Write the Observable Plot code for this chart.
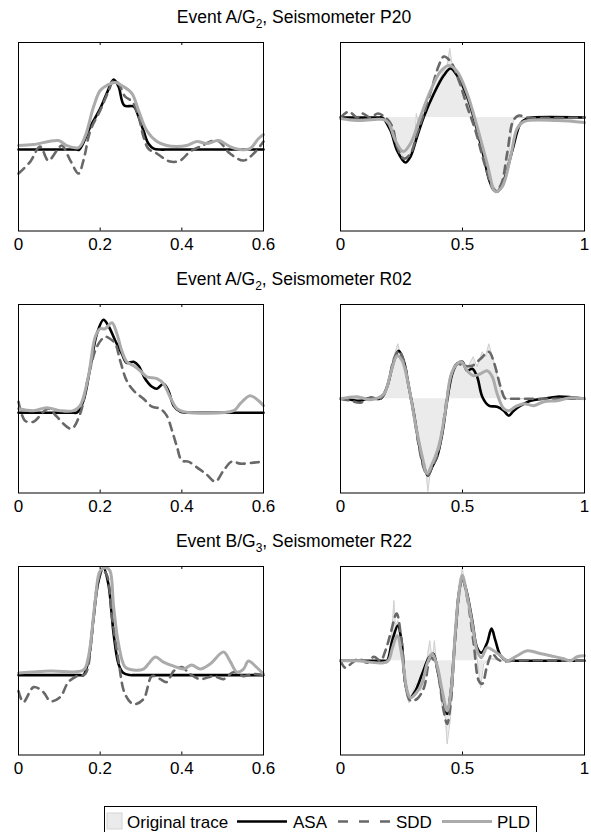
<!DOCTYPE html>
<html>
<head>
<meta charset="utf-8">
<script src="https://cdn.jsdelivr.net/npm/d3@7"></script>
<script src="https://cdn.jsdelivr.net/npm/@observablehq/plot@0.6"></script>
<style>
  body { margin: 0; background: #fff; }
  #fig { position: relative; width: 591px; height: 832px; overflow: hidden;
         font-family: "Liberation Sans", Arial, Helvetica, sans-serif; color: #000; }
  .title { position: absolute; left: 0; width: 588px; text-align: center;
           font-size: 17.5px; line-height: 17px; white-space: nowrap; }
  .title sub { font-size: 12px; line-height: 0; vertical-align: -5px; }
</style>
</head>
<body>
<div id="fig"></div>
<script>
// ---- Event A/G2, seismometer P20 ----
// envelope, 0–0.6 s
const p20EnvASA = [[0,0],[0.14,0],[0.149,0],[0.176,0.23],[0.2,0.41],[0.216,0.56],[0.233,0.70],[0.245,0.63],[0.259,0.44],[0.282,0.43],[0.294,0.33],[0.306,0.19],[0.318,0.06],[0.331,0.01],[0.347,0],[0.36,0],[0.6,0]];
const p20EnvSDD = [[0,-0.24],[0.029,-0.12],[0.053,0.03],[0.073,-0.11],[0.094,-0.01],[0.106,0.04],[0.127,-0.11],[0.147,-0.24],[0.159,-0.11],[0.176,0.19],[0.2,0.39],[0.22,0.58],[0.233,0.69],[0.245,0.66],[0.261,0.53],[0.278,0.48],[0.294,0.33],[0.306,0.13],[0.318,0.01],[0.339,-0.04],[0.371,-0.12],[0.396,-0.11],[0.42,-0.02],[0.445,0.03],[0.486,0.09],[0.518,-0.04],[0.551,-0.11],[0.576,-0.04],[0.6,0.08]];
const p20EnvPLD = [[0,0.04],[0.037,0.05],[0.098,0.09],[0.118,0.04],[0.147,0.02],[0.163,0.13],[0.184,0.43],[0.2,0.59],[0.216,0.64],[0.237,0.67],[0.257,0.63],[0.278,0.56],[0.294,0.39],[0.314,0.19],[0.339,0.08],[0.363,0.04],[0.388,0.03],[0.412,0.04],[0.437,0.08],[0.461,0.06],[0.49,0.09],[0.518,0.03],[0.543,0],[0.567,0.01],[0.588,0.11],[0.6,0.15]];
// waveform, 0–1 s
const p20Trace = [[0,0],[0.184,0],[0.205,-0.03],[0.232,-0.26],[0.26,-0.41],[0.284,-0.36],[0.303,-0.23],[0.311,0.04],[0.321,-0.09],[0.342,0.02],[0.383,0.27],[0.417,0.44],[0.437,0.52],[0.448,0.69],[0.458,0.51],[0.478,0.44],[0.512,0.22],[0.54,0],[0.574,-0.29],[0.608,-0.59],[0.635,-0.74],[0.656,-0.70],[0.674,-0.58],[0.69,-0.36],[0.703,-0.1],[0.712,0],[1,0]];
const p20WaveASA = [[0,0],[0.16,0],[0.171,0],[0.205,-0.13],[0.232,-0.33],[0.266,-0.45],[0.287,-0.39],[0.314,-0.19],[0.342,0.01],[0.383,0.24],[0.423,0.42],[0.451,0.49],[0.478,0.42],[0.519,0.21],[0.553,-0.06],[0.587,-0.39],[0.615,-0.66],[0.642,-0.74],[0.669,-0.63],[0.704,-0.33],[0.738,-0.06],[0.765,-0.01],[0.785,0],[1,0]];
const p20WaveSDD = [[0,0],[0.034,0.06],[0.068,0],[0.089,0.04],[0.123,0],[0.153,0.04],[0.184,0],[0.212,-0.09],[0.232,-0.29],[0.26,-0.41],[0.287,-0.36],[0.314,-0.16],[0.342,0.04],[0.376,0.31],[0.403,0.52],[0.423,0.61],[0.451,0.56],[0.485,0.37],[0.519,0.11],[0.553,-0.13],[0.594,-0.49],[0.631,-0.73],[0.656,-0.68],[0.683,-0.36],[0.708,-0.03],[0.731,0.02],[0.765,0],[1,0]];
const p20WavePLD = [[0,-0.01],[0.068,-0.03],[0.137,-0.02],[0.178,-0.02],[0.198,-0.06],[0.225,-0.23],[0.257,-0.34],[0.287,-0.26],[0.328,0.01],[0.369,0.27],[0.41,0.46],[0.444,0.52],[0.478,0.46],[0.519,0.24],[0.56,-0.09],[0.601,-0.46],[0.635,-0.74],[0.663,-0.69],[0.697,-0.39],[0.724,-0.11],[0.751,-0.04],[0.888,-0.03],[1,-0.05]];

// ---- Event A/G2, seismometer R02 ----
const r02EnvASA = [[0,0],[0.135,0],[0.143,0],[0.159,0.12],[0.176,0.46],[0.192,0.79],[0.208,0.93],[0.22,0.87],[0.237,0.72],[0.253,0.59],[0.265,0.50],[0.282,0.51],[0.294,0.47],[0.31,0.34],[0.327,0.26],[0.339,0.24],[0.355,0.29],[0.367,0.22],[0.38,0.07],[0.396,0.01],[0.412,0],[0.425,0],[0.6,0]];
const r02EnvSDD = [[0,0.11],[0.016,-0.08],[0.037,-0.09],[0.061,0.01],[0.073,0.04],[0.094,-0.04],[0.118,-0.14],[0.131,-0.16],[0.151,-0.01],[0.171,0.36],[0.192,0.66],[0.212,0.76],[0.224,0.74],[0.237,0.69],[0.249,0.52],[0.265,0.32],[0.282,0.22],[0.306,0.14],[0.327,0.06],[0.347,0.04],[0.363,-0.03],[0.376,-0.18],[0.388,-0.34],[0.4,-0.48],[0.416,-0.49],[0.441,-0.56],[0.461,-0.62],[0.482,-0.69],[0.502,-0.58],[0.522,-0.49],[0.543,-0.51],[0.576,-0.50],[0.6,-0.49]];
const r02EnvPLD = [[0,0.04],[0.037,0.02],[0.069,0.05],[0.102,0.02],[0.135,0.02],[0.151,0.07],[0.171,0.36],[0.188,0.76],[0.2,0.84],[0.212,0.84],[0.229,0.90],[0.241,0.79],[0.253,0.62],[0.265,0.51],[0.282,0.47],[0.298,0.42],[0.314,0.36],[0.339,0.34],[0.355,0.29],[0.371,0.16],[0.388,0.04],[0.404,0.01],[0.527,0.02],[0.543,0.09],[0.567,0.17],[0.588,0.12],[0.6,0.07]];
const r02Trace = [[0,0],[0.164,0],[0.191,0.12],[0.219,0.42],[0.235,0.55],[0.253,0.38],[0.273,0.15],[0.29,0],[0.314,-0.38],[0.339,-0.68],[0.348,-0.65],[0.358,-0.93],[0.369,-0.72],[0.385,-0.58],[0.41,-0.35],[0.437,-0.02],[0.458,0.25],[0.485,0.37],[0.519,0.30],[0.544,0.42],[0.56,0.32],[0.581,0.47],[0.594,0.42],[0.608,0.55],[0.628,0.37],[0.649,0.15],[0.669,0],[1,0]];
const r02WaveASA = [[0,0],[0.041,-0.01],[0.082,-0.02],[0.123,0.01],[0.164,0],[0.191,0.12],[0.219,0.38],[0.239,0.48],[0.26,0.37],[0.28,0.12],[0.301,-0.15],[0.321,-0.45],[0.342,-0.68],[0.358,-0.77],[0.376,-0.68],[0.396,-0.58],[0.417,-0.35],[0.437,-0.02],[0.458,0.25],[0.478,0.35],[0.499,0.37],[0.519,0.28],[0.54,0.30],[0.56,0.22],[0.581,0.02],[0.608,-0.07],[0.642,-0.08],[0.669,-0.12],[0.69,-0.17],[0.71,-0.12],[0.738,-0.07],[0.779,-0.02],[0.833,0],[0.888,0.02],[1,0]];
const r02WaveSDD = [[0,0],[0.041,-0.02],[0.082,-0.04],[0.123,0.01],[0.164,0],[0.191,0.12],[0.219,0.40],[0.239,0.48],[0.26,0.37],[0.28,0.12],[0.301,-0.17],[0.321,-0.47],[0.342,-0.70],[0.358,-0.77],[0.376,-0.68],[0.396,-0.57],[0.417,-0.32],[0.437,0.02],[0.458,0.27],[0.478,0.35],[0.505,0.33],[0.54,0.33],[0.574,0.40],[0.608,0.47],[0.628,0.37],[0.656,0.12],[0.676,0],[0.69,0],[1,0]];
const r02WavePLD = [[0,0],[0.068,0.02],[0.123,-0.01],[0.178,0.05],[0.205,0.25],[0.232,0.43],[0.253,0.38],[0.28,0.12],[0.307,-0.25],[0.335,-0.58],[0.355,-0.75],[0.376,-0.65],[0.403,-0.48],[0.43,-0.12],[0.451,0.22],[0.471,0.33],[0.495,0.37],[0.519,0.28],[0.546,0.23],[0.574,0.25],[0.601,0.28],[0.622,0.22],[0.642,0.05],[0.669,-0.10],[0.69,-0.12],[0.717,-0.08],[0.751,-0.05],[0.792,-0.07],[0.833,-0.03],[0.888,-0.02],[0.943,0.01],[1,0]];

// ---- Event B/G3, seismometer R22 ----
const r22EnvASA = [[0,0],[0.15,0],[0.159,0],[0.171,0.14],[0.184,0.58],[0.196,0.94],[0.208,1.07],[0.22,0.91],[0.233,0.41],[0.245,0.11],[0.257,0.02],[0.273,0],[0.285,0],[0.6,0]];
const r22EnvSDD = [[0,-0.16],[0.012,-0.27],[0.037,-0.12],[0.061,-0.17],[0.078,-0.26],[0.102,-0.22],[0.122,-0.07],[0.143,-0.01],[0.163,0.01],[0.18,0.41],[0.192,0.88],[0.204,1.04],[0.215,1.01],[0.229,0.58],[0.245,0.14],[0.261,-0.19],[0.282,-0.29],[0.306,-0.24],[0.327,-0.01],[0.347,-0.04],[0.363,-0.07],[0.38,0.04],[0.4,0.08],[0.42,0.01],[0.445,-0.04],[0.478,-0.01],[0.502,-0.04],[0.527,0.03],[0.551,-0.01],[0.576,0.01],[0.6,0]];
const r22EnvPLD = [[0,0.02],[0.078,0.04],[0.159,0.05],[0.171,0.18],[0.188,0.74],[0.2,1.04],[0.215,1.07],[0.224,1.04],[0.233,0.68],[0.245,0.31],[0.261,0.08],[0.282,0.05],[0.306,0.06],[0.318,0.11],[0.335,0.18],[0.355,0.13],[0.38,0.09],[0.404,0.06],[0.424,0.10],[0.445,0.06],[0.469,0.11],[0.502,0.23],[0.518,0.14],[0.535,0.03],[0.551,0.06],[0.563,0.14],[0.58,0.09],[0.6,0.01]];
const r22Trace = [[0,0],[0.191,0],[0.205,0.10],[0.219,0.60],[0.225,0.33],[0.235,0.40],[0.253,0],[0.266,-0.30],[0.28,-0.42],[0.307,-0.23],[0.328,-0.30],[0.342,-0.17],[0.355,0.03],[0.366,0.20],[0.376,0],[0.385,0.20],[0.396,-0.10],[0.417,-0.47],[0.43,-0.57],[0.437,-0.83],[0.451,-0.57],[0.464,0],[0.478,0.60],[0.499,0.92],[0.519,0.67],[0.54,0.33],[0.56,0.03],[0.574,-0.27],[0.587,-0.03],[0.615,0.03],[0.649,0],[1,0]];
const r22WaveASA = [[0,0],[0.18,0],[0.191,0],[0.212,0.20],[0.235,0.35],[0.25,0.20],[0.266,-0.23],[0.284,-0.37],[0.307,-0.30],[0.335,-0.13],[0.362,0.03],[0.38,0.07],[0.396,-0.07],[0.417,-0.33],[0.437,-0.53],[0.451,-0.33],[0.471,0.27],[0.485,0.67],[0.499,0.82],[0.516,0.70],[0.54,0.40],[0.56,0.13],[0.578,0.08],[0.601,0.18],[0.619,0.32],[0.635,0.20],[0.656,0.05],[0.683,0],[0.7,0],[1,0]];
const r22WaveSDD = [[0,0],[0.02,-0.07],[0.048,-0.02],[0.075,0.02],[0.109,-0.02],[0.137,0.04],[0.164,0],[0.184,0.10],[0.205,0.27],[0.23,0.47],[0.25,0.20],[0.266,-0.23],[0.287,-0.40],[0.314,-0.38],[0.342,-0.27],[0.369,0.03],[0.385,0],[0.403,-0.17],[0.423,-0.50],[0.437,-0.63],[0.454,-0.37],[0.471,0.27],[0.499,0.82],[0.519,0.63],[0.546,0.17],[0.567,-0.20],[0.581,-0.23],[0.601,-0.05],[0.622,0.07],[0.642,0.02],[0.669,-0.01],[0.69,0],[1,0]];
const r22WavePLD = [[0,0],[0.068,0],[0.191,-0.01],[0.212,0.12],[0.232,0.25],[0.253,0.03],[0.273,-0.30],[0.287,-0.37],[0.311,-0.32],[0.335,-0.22],[0.355,-0.03],[0.376,0.07],[0.396,-0.05],[0.417,-0.30],[0.437,-0.50],[0.454,-0.27],[0.471,0.30],[0.485,0.67],[0.499,0.85],[0.519,0.65],[0.54,0.37],[0.56,0.10],[0.577,0.03],[0.601,0.13],[0.628,0.10],[0.656,0.05],[0.683,0],[0.724,0.05],[0.765,0.10],[0.806,0.08],[0.861,0.05],[0.915,0.02],[0.943,0],[0.97,0.04],[1,0.05]];

// axis ticks and row titles
const envTicks = [0, 0.2, 0.4, 0.6];
const waveTicks = [0, 0.5, 1];
const rowTitles = [
  ["Event A/G", "2", ", Seismometer P20"],
  ["Event A/G", "2", ", Seismometer R02"],
  ["Event B/G", "3", ", Seismometer R22"]
];
const legendLabels = ["Original trace", "ASA", "SDD", "PLD"];

// ---- styling & layout ----
const FONT = '"Liberation Sans", Arial, Helvetica, sans-serif';
const COLORS = { asa: "#000000", sdd: "#686868", pld: "#ababab", fill: "#ebebeb", trace: "#cfcfcf" };
const SDD_DASH = "8,6";
const frameH = 188.5;
const rowTop = [42.3, 304, 566];
const colLeft = [18.3, 340];
const colWidth = [245, 244];

const fig = document.getElementById("fig");

function toPoints(arr) { return arr.map(([x, y]) => ({ x, y })); }

function drawPanel({ left, top, w, xDomain, xTicks, yDomain, trace, asa, sdd, pld }) {
  const ml = 20, mr = 6, mt = 6, mb = 30;
  const marks = [];
  if (trace) {
    const t = toPoints(trace);
    marks.push(
      Plot.areaY(t, { x: "x", y: "y", fill: COLORS.fill }),
      Plot.lineY(t, { x: "x", y: "y", stroke: COLORS.trace, strokeWidth: 1 })
    );
  }
  marks.push(
    Plot.lineY(toPoints(asa), { x: "x", y: "y", stroke: COLORS.asa, strokeWidth: 2.6, curve: "catmull-rom" }),
    Plot.lineY(toPoints(sdd), { x: "x", y: "y", stroke: COLORS.sdd, strokeWidth: 2.6, strokeDasharray: SDD_DASH, curve: "catmull-rom" }),
    Plot.lineY(toPoints(pld), { x: "x", y: "y", stroke: COLORS.pld, strokeWidth: 3, curve: "catmull-rom" }),
    Plot.frame({ stroke: "#000", strokeWidth: 1 }),
    // inward tick marks on the bottom and top edges
    Plot.ruleX(xTicks, { stroke: "#000", strokeWidth: 1, insetTop: frameH - 3 }),
    Plot.ruleX(xTicks, { stroke: "#000", strokeWidth: 1, insetBottom: frameH - 3 })
  );
  const svg = Plot.plot({
    width: w + ml + mr,
    height: frameH + mt + mb,
    marginLeft: ml, marginRight: mr, marginTop: mt, marginBottom: mb,
    x: { domain: xDomain, ticks: xTicks, tickSize: 0, tickPadding: 7, tickFormat: d => `${d}`, label: null },
    y: { domain: yDomain, axis: null },
    style: { fontFamily: FONT, fontSize: "17px", background: "transparent", color: "#000", overflow: "visible" },
    marks
  });
  svg.style.position = "absolute";
  svg.style.left = `${left - ml}px`;
  svg.style.top = `${top - mt}px`;
  fig.appendChild(svg);
}

const rows = [
  { env: [p20EnvASA, p20EnvSDD, p20EnvPLD], envY: [-0.814, 1.07], wave: [p20Trace, p20WaveASA, p20WaveSDD, p20WavePLD], waveY: [-1.134, 0.75] },
  { env: [r02EnvASA, r02EnvSDD, r02EnvPLD], envY: [-0.804, 1.083], wave: [r02Trace, r02WaveASA, r02WaveSDD, r02WavePLD], waveY: [-0.944, 0.943] },
  { env: [r22EnvASA, r22EnvSDD, r22EnvPLD], envY: [-0.797, 1.083], wave: [r22Trace, r22WaveASA, r22WaveSDD, r22WavePLD], waveY: [-0.94, 0.94] }
];

rows.forEach((r, i) => {
  const title = document.createElement("div");
  title.className = "title";
  title.style.top = `${rowTop[i] - 33.5}px`;
  title.innerHTML = `${rowTitles[i][0]}<sub>${rowTitles[i][1]}</sub>${rowTitles[i][2]}`;
  fig.appendChild(title);

  drawPanel({ left: colLeft[0], top: rowTop[i], w: colWidth[0], xDomain: [0, 0.6], xTicks: envTicks, yDomain: r.envY,
              asa: r.env[0], sdd: r.env[1], pld: r.env[2] });
  drawPanel({ left: colLeft[1], top: rowTop[i], w: colWidth[1], xDomain: [0, 1], xTicks: waveTicks, yDomain: r.waveY,
              trace: r.wave[0], asa: r.wave[1], sdd: r.wave[2], pld: r.wave[3] });
});

// ---- legend ----
const lg = d3.create("svg")
  .attr("width", 591).attr("height", 40)
  .style("position", "absolute").style("left", "0px").style("top", "795px")
  .style("font-family", FONT).style("font-size", "17px");
lg.append("rect").attr("x", 104.5).attr("y", 11.5).attr("width", 432).attr("height", 30)
  .attr("fill", "#fff").attr("stroke", "#000").attr("stroke-width", 1);
lg.append("rect").attr("x", 107).attr("y", 18).attr("width", 15).attr("height", 16)
  .attr("fill", COLORS.fill).attr("stroke", "#d4d4d4");
const ly = 26.5;
const items = [
  { text: legendLabels[0], tx: 127 },
  { text: legendLabels[1], tx: 293, x1: 237, x2: 287, stroke: COLORS.asa, w: 2.6 },
  { text: legendLabels[2], tx: 396, x1: 338, x2: 390, stroke: COLORS.sdd, w: 2.6, dash: "10,11" },
  { text: legendLabels[3], tx: 497, x1: 442, x2: 492, stroke: COLORS.pld, w: 3 }
];
items.forEach(it => {
  if (it.x1 != null) {
    lg.append("line").attr("x1", it.x1).attr("x2", it.x2).attr("y1", ly).attr("y2", ly)
      .attr("stroke", it.stroke).attr("stroke-width", it.w)
      .attr("stroke-dasharray", it.dash || null);
  }
  lg.append("text").attr("x", it.tx).attr("y", ly + 6).text(it.text);
});
fig.appendChild(lg.node());
</script>
</body>
</html>
